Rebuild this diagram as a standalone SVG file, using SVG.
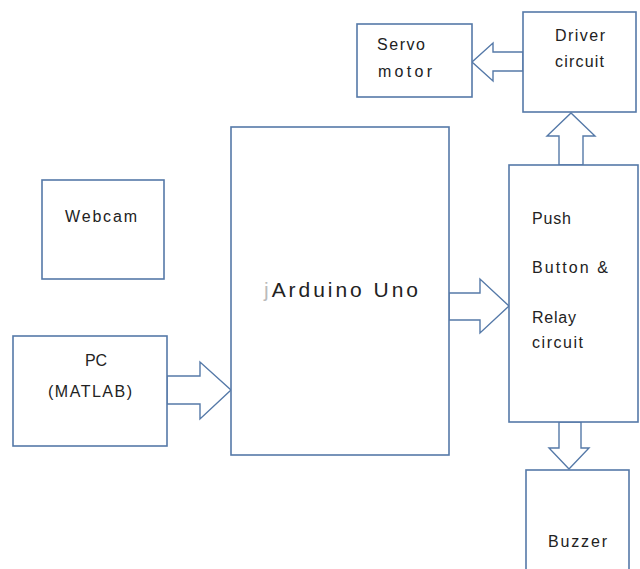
<svg xmlns="http://www.w3.org/2000/svg" width="640" height="569" viewBox="0 0 640 569">
<style>
.box{fill:#ffffff;stroke:#5579a8;stroke-width:1.6}
.arr{fill:#ffffff;stroke:#5579a8;stroke-width:1.4;stroke-linejoin:miter}
.t{font-family:"Liberation Sans",Arial,sans-serif;font-size:16px;fill:#222}
.big{font-family:"Liberation Sans",Arial,sans-serif;font-size:21px;fill:#222}
</style>
<rect width="640" height="569" fill="#ffffff"/>
<g id="connectors">
<polygon class="arr" points="523,52 493,52 493,43 472,62 493,81 493,71 523,71"/>
<polygon class="arr" points="167,376 200,376 200,362 231,390 200,419 200,404 167,404"/>
<polygon class="arr" points="449,293 480,293 480,279 509,306 480,333 480,320 449,320"/>
<polygon class="arr" points="559,165 559,136 547,136 571,113 595,136 583,136 583,165"/>
<polygon class="arr" points="559,422 559,448 549,448 569,469 589,448 581,448 581,422"/>
</g>
<g id="servo">
<rect class="box" x="357" y="24" width="115" height="73"/>
<text class="t" x="377" y="50" textLength="48" lengthAdjust="spacing">Servo</text>
<text class="t" x="378" y="77" textLength="54" lengthAdjust="spacing">motor</text>
</g>
<g id="driver">
<rect class="box" x="523" y="12" width="113" height="100"/>
<text class="t" x="555" y="41" textLength="50" lengthAdjust="spacing">Driver</text>
<text class="t" x="555" y="67" textLength="49" lengthAdjust="spacing">circuit</text>
</g>
<g id="webcam">
<rect class="box" x="42" y="180" width="122" height="99"/>
<text class="t" x="65" y="222" textLength="72" lengthAdjust="spacing">Webcam</text>
</g>
<g id="pc">
<rect class="box" x="13" y="336" width="154" height="110"/>
<text class="t" x="85" y="366" textLength="22" lengthAdjust="spacing">PC</text>
<text class="t" x="48" y="397" textLength="84" lengthAdjust="spacing">(MATLAB)</text>
</g>
<g id="arduino">
<rect class="box" x="231" y="127" width="218" height="328"/>
<text class="big" x="264" y="297" textLength="154" lengthAdjust="spacing"><tspan fill="#bbbbbb">j</tspan>Arduino Uno</text>
</g>
<g id="push">
<rect class="box" x="509" y="165" width="129" height="257"/>
<text class="t" x="532" y="224" textLength="39" lengthAdjust="spacing">Push</text>
<text class="t" x="532" y="273" textLength="76" lengthAdjust="spacing">Button &amp;</text>
<text class="t" x="532" y="323" textLength="44" lengthAdjust="spacing">Relay</text>
<text class="t" x="532" y="348" textLength="51" lengthAdjust="spacing">circuit</text>
</g>
<g id="buzzer">
<rect class="box" x="526" y="470" width="103" height="110"/>
<text class="t" x="548" y="547" textLength="59" lengthAdjust="spacing">Buzzer</text>
</g>
</svg>
